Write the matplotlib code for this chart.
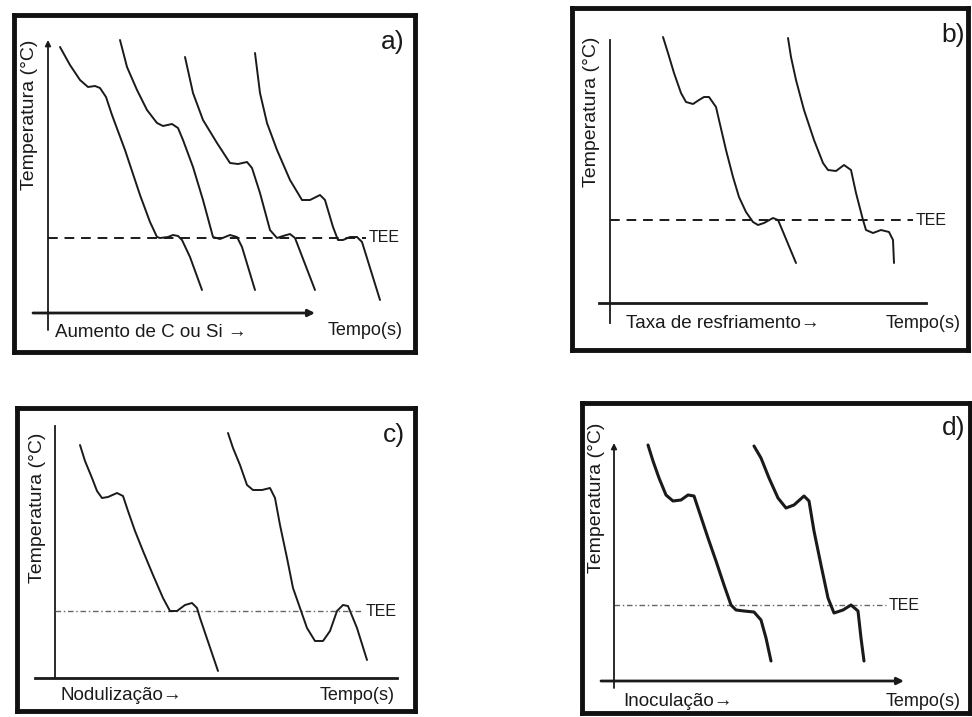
import matplotlib
matplotlib.use("Agg")
import matplotlib.pyplot as plt

plt.rcParams['font.family'] = ['Liberation Sans', 'DejaVu Sans']

# ---------------- data (time, temperature; arbitrary schematic units) ----------------
# panel a) increasing C or Si
a1_t = [12, 22, 32, 40, 47, 52, 58, 64, 77, 92, 102, 109, 112, 120, 125, 130, 134, 142, 154]
a1_T = [266, 248, 233, 226, 227, 225, 216, 198, 163, 118, 91, 76, 75, 76, 78, 77, 73, 56, 23]
a2_t = [72, 79, 89, 99, 109, 115, 124, 130, 135, 145, 155, 165, 172, 182, 189, 194, 207]
a2_T = [273, 246, 223, 203, 190, 187, 189, 185, 173, 146, 113, 76, 74, 78, 76, 66, 23]
a3_t = [137, 145, 155, 169, 182, 190, 199, 204, 212, 222, 229, 235, 242, 247, 267]
a3_T = [256, 220, 193, 170, 150, 149, 151, 145, 120, 83, 75, 77, 79, 75, 23]
a4_t = [207, 212, 219, 229, 242, 254, 262, 272, 277, 285, 290, 295, 302, 309, 314, 332]
a4_T = [260, 220, 190, 163, 133, 113, 113, 118, 113, 86, 73, 73, 76, 76, 71, 13]
a_tee = 75

# panel b) cooling rate
b1_t = [53, 58, 64, 71, 76, 83, 89, 94, 99, 106, 109, 116, 123, 129, 136, 143, 148, 154, 163, 168, 171, 186]
b1_T = [266, 250, 230, 210, 201, 199, 203, 206, 206, 196, 183, 153, 126, 106, 91, 81, 78, 80, 85, 83, 76, 40]
b2_t = [178, 181, 186, 194, 204, 213, 218, 226, 234, 241, 246, 253, 256, 263, 271, 279, 283, 284]
b2_T = [265, 246, 223, 193, 163, 140, 133, 132, 138, 133, 110, 83, 73, 70, 73, 71, 63, 40]
b_tee = 83

# panel c) nodularization
c1_t = [25, 30, 37, 42, 47, 53, 62, 68, 73, 80, 88, 98, 108, 115, 122, 130, 137, 142, 145, 163]
c1_T = [233, 217, 200, 187, 180, 181, 185, 182, 167, 147, 127, 103, 80, 67, 67, 73, 75, 70, 60, 7]
c2_t = [173, 178, 185, 192, 198, 207, 215, 220, 225, 232, 238, 245, 252, 260, 268, 275, 282, 288, 293, 302, 312]
c2_T = [245, 230, 213, 193, 188, 188, 190, 180, 153, 120, 90, 70, 50, 37, 37, 47, 67, 73, 72, 50, 18]
c_tee = 67

# panel d) inoculation
d1_t = [34, 39, 45, 52, 59, 67, 74, 80, 85, 94, 102, 110, 117, 122, 130, 140, 147, 152, 157]
d1_T = [236, 220, 203, 186, 180, 181, 186, 185, 170, 143, 120, 96, 76, 71, 70, 69, 61, 43, 20]
d2_t = [140, 147, 155, 164, 172, 180, 190, 195, 200, 207, 214, 220, 229, 237, 244, 247, 250]
d2_T = [235, 223, 203, 183, 173, 176, 185, 180, 150, 116, 83, 68, 71, 76, 70, 43, 20]
d_tee = 76

ylabel = "Temperatura (°C)"
xlabel_right = "Tempo(s)"
labels_left = ["Aumento de C ou Si \u2192", "Taxa de resfriamento\u2192", "Nodulização\u2192", "Inoculação\u2192"]
panel_tags = ["a)", "b)", "c)", "d)"]

# ---------------- layout (pixels in 972x717 figure) ----------------
W, H = 972, 717
fig = plt.figure(figsize=(W / 100, H / 100), dpi=100)
fig.patch.set_facecolor('white')

panels = [
    dict(frame=(14, 15, 415, 352), origin=(48, 313), curves=[(a1_t, a1_T), (a2_t, a2_T), (a3_t, a3_T), (a4_t, a4_T)],
         tee=a_tee, tee_end=318, tee_style='dash', yax=(-17, 273), yarrow=True, xax=(-15, 267), xarrow=True,
         lw=1.4, left_lab=(7, -20), right_lab=(280, -18), tag=(357, 271), ylab=(-18, 198)),
    dict(frame=(572, 8, 968, 350), origin=(610, 303), curves=[(b1_t, b1_T), (b2_t, b2_T)],
         tee=b_tee, tee_end=303, tee_style='dash', yax=(-20, 263), yarrow=False, xax=(-11, 316), xarrow=False,
         lw=1.4, left_lab=(16, -20), right_lab=(276, -20), tag=(355, 268), ylab=(-19, 191)),
    dict(frame=(17, 408, 415, 711), origin=(55, 678), curves=[(c1_t, c1_T), (c2_t, c2_T)],
         tee=c_tee, tee_end=308, tee_style='dashdot', yax=(0, 252), yarrow=False, xax=(-20, 342), xarrow=False,
         lw=1.4, left_lab=(5, -18), right_lab=(265, -18), tag=(350, 243), ylab=(-18, 170)),
    dict(frame=(582, 403, 970, 713), origin=(614, 681), curves=[(d1_t, d1_T), (d2_t, d2_T)],
         tee=d_tee, tee_end=272, tee_style='dashdot', yax=(-7, 238), yarrow=True, xax=(-13, 290), xarrow=True,
         lw=2.2, left_lab=(9, -20), right_lab=(272, -20), tag=(351, 253), ylab=(-18, 183)),
]

ink = '#1a1a1a'
for i, p in enumerate(panels):
    l, t, r, b = p['frame']
    ox, oy = p['origin']
    ax = fig.add_axes([l / W, 1 - b / H, (r - l) / W, (b - t) / H])
    ax.set_xlim(l - ox, r - ox)
    ax.set_ylim(oy - b, oy - t)
    ax.set_xticks([])
    ax.set_yticks([])
    for s in ax.spines.values():
        s.set_linewidth(3.5)
        s.set_color('#111111')
    ax.set_facecolor('white')

    # axes lines
    y0, y1 = p['yax']
    if p['yarrow']:
        ax.annotate('', xy=(0, y1), xytext=(0, y0),
                    arrowprops=dict(arrowstyle='-|>', color=ink, lw=1.3, mutation_scale=8, shrinkA=0, shrinkB=0))
    else:
        ax.plot([0, 0], [y0, y1], color=ink, lw=1.3)
    x0, x1 = p['xax']
    if p['xarrow']:
        ax.annotate('', xy=(x1, 0), xytext=(x0, 0),
                    arrowprops=dict(arrowstyle='-|>', color=ink, lw=2.0, mutation_scale=10, shrinkA=0, shrinkB=0))
    else:
        ax.plot([x0, x1], [0, 0], color=ink, lw=2.0)

    # TEE line
    if p['tee_style'] == 'dash':
        ax.plot([0, p['tee_end']], [p['tee'], p['tee']], color=ink, lw=1.4, dashes=(5, 3.5))
    else:
        ax.plot([0, p['tee_end']], [p['tee'], p['tee']], color='#666666', lw=1.0, dashes=(4, 2, 1, 2))
    ax.text(p['tee_end'] + 3, p['tee'], 'TEE', fontsize=11.5, va='center', ha='left', color=ink)

    # curves
    for ct, cT in p['curves']:
        ax.plot(ct, cT, color=ink, lw=p['lw'], solid_joinstyle='round', solid_capstyle='round')

    # texts
    ax.text(*p['left_lab'], labels_left[i], fontsize=13.5, ha='left', va='center', color=ink)
    ax.text(*p['right_lab'], xlabel_right, fontsize=13, ha='left', va='center', color=ink)
    ax.text(*p['tag'], panel_tags[i], fontsize=19, ha='right', va='center', color=ink)
    ax.text(*p['ylab'], ylabel, fontsize=14, ha='center', va='center', rotation=90, color=ink)

fig.savefig('out.png', dpi=100, facecolor='white')
